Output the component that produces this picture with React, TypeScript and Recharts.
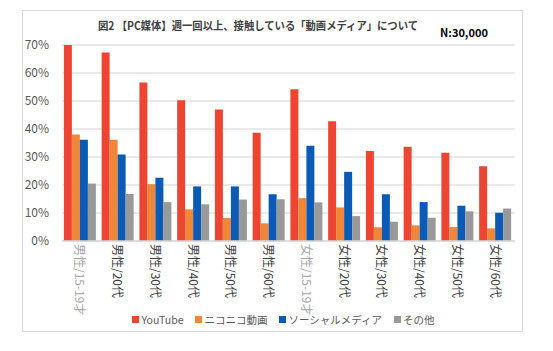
import React from "react";
import { BarChart, Bar, XAxis, YAxis, CartesianGrid, Legend } from "recharts";

const categories = [
  "男性/15-19才", "男性/20代", "男性/30代", "男性/40代", "男性/50代", "男性/60代",
  "女性/15-19才", "女性/20代", "女性/30代", "女性/40代", "女性/50代", "女性/60代",
];
const youtube = [70.0, 67.3, 56.6, 50.3, 47.0, 38.7, 54.2, 42.8, 32.1, 33.7, 31.5, 26.7];
const niconico = [38.0, 36.2, 20.3, 11.3, 8.2, 6.3, 15.3, 12.0, 4.9, 5.6, 5.0, 4.5];
const social = [36.2, 30.9, 22.6, 19.5, 19.5, 16.7, 34.0, 24.7, 16.7, 13.9, 12.6, 10.1];
const other = [20.5, 16.8, 13.9, 13.1, 14.8, 14.9, 13.8, 8.9, 6.9, 8.3, 10.6, 11.6];
const yTicks = [0, 10, 20, 30, 40, 50, 60, 70];
const seriesNames = ["YouTube", "ニコニコ動画", "ソーシャルメディア", "その他"];
const titleText = "図2 【PC媒体】週一回以上、接触している「動画メディア」について";
const noteText = "N:30,000";

const data = categories.map((c, i) => ({
  name: c,
  youtube: youtube[i],
  niconico: niconico[i],
  social: social[i],
  other: other[i],
}));

const seriesKeys = ["youtube", "niconico", "social", "other"];
const seriesColors = ["#ee4532", "#f08637", "#0b5ab5", "#999999"];

const FONT = "'Noto Sans CJK JP', 'Noto Sans', sans-serif";

const XTick = (props: any) => {
  const { x, y, payload, index } = props;
  const light = index === 0 || index === 6;
  return (
    <text
      x={x}
      y={y}
      transform={`rotate(90, ${x}, ${y})`}
      textAnchor="start"
      dominantBaseline="central"
      fontSize={12}
      fontFamily={FONT}
      fill={light ? "#a6a6a6" : "#404040"}
    >
      {payload.value}
    </text>
  );
};

const LegendContent = () => (
  <div
    style={{
      height: 17,
      display: "flex",
      justifyContent: "center",
      alignItems: "center",
      fontSize: 10.5,
      fontFamily: FONT,
      color: "#595959",
      paddingLeft: 52,
      marginTop: -3,
    }}
  >
    {seriesNames.map((n, i) => (
      <span key={n} style={{ display: "inline-flex", alignItems: "center", marginRight: i < 3 ? 12 : 0 }}>
        <span style={{ display: "inline-block", width: 7, height: 7, background: seriesColors[i], marginRight: 2 }} />
        <span>{n}</span>
      </span>
    ))}
  </div>
);

export default function App() {
  return (
    <div style={{ position: "absolute", left: 0, top: 0, width: 553, height: 351, background: "#fff" }}>
      <div
        style={{
          position: "absolute",
          left: 22,
          top: 10,
          width: 501,
          height: 322,
          border: "1px solid #d9d9d9",
          boxSizing: "border-box",
        }}
      />
      <BarChart
        width={553}
        height={351}
        data={data}
        margin={{ top: 45, right: 38, bottom: 20, left: 0 }}
        barCategoryGap="5%"
        barGap={0}
        style={{ position: "absolute", left: 0, top: 0, fontFamily: FONT }}
      >
        <text
          x={98}
          y={25}
          textAnchor="start"
          dominantBaseline="central"
          fontSize={11}
          fontWeight="bold"
          fill="#404040"
          fontFamily={FONT}
          textLength={320}
          lengthAdjust="spacingAndGlyphs"
        >
          {titleText}
        </text>
        <text x={464} y={32} textAnchor="middle" dominantBaseline="central" fontSize={11} fontWeight="bold" fill="#000" fontFamily={FONT}>
          {noteText}
        </text>
        <CartesianGrid vertical={false} stroke="#e3e3e3" strokeWidth={1.5} />
        <XAxis
          dataKey="name"
          interval={0}
          height={73}
          tick={<XTick />}
          tickLine={false}
          axisLine={{ stroke: "#d9d9d9", strokeWidth: 1.5 }}
          tickSize={0}
          tickMargin={3}
        />
        <YAxis
          domain={[0, 70]}
          ticks={yTicks}
          width={62}
          tickFormatter={(v: number) => `${v}%`}
          tick={{ fontSize: 12, fill: "#595959", fontFamily: FONT }}
          tickLine={false}
          axisLine={false}
          tickSize={0}
          tickMargin={13}
        />
        <Legend verticalAlign="bottom" height={17} content={<LegendContent />} />
        {seriesKeys.map((k, i) => (
          <Bar key={k} dataKey={k} name={seriesNames[i]} fill={seriesColors[i]} isAnimationActive={false} />
        ))}
      </BarChart>
    </div>
  );
}
